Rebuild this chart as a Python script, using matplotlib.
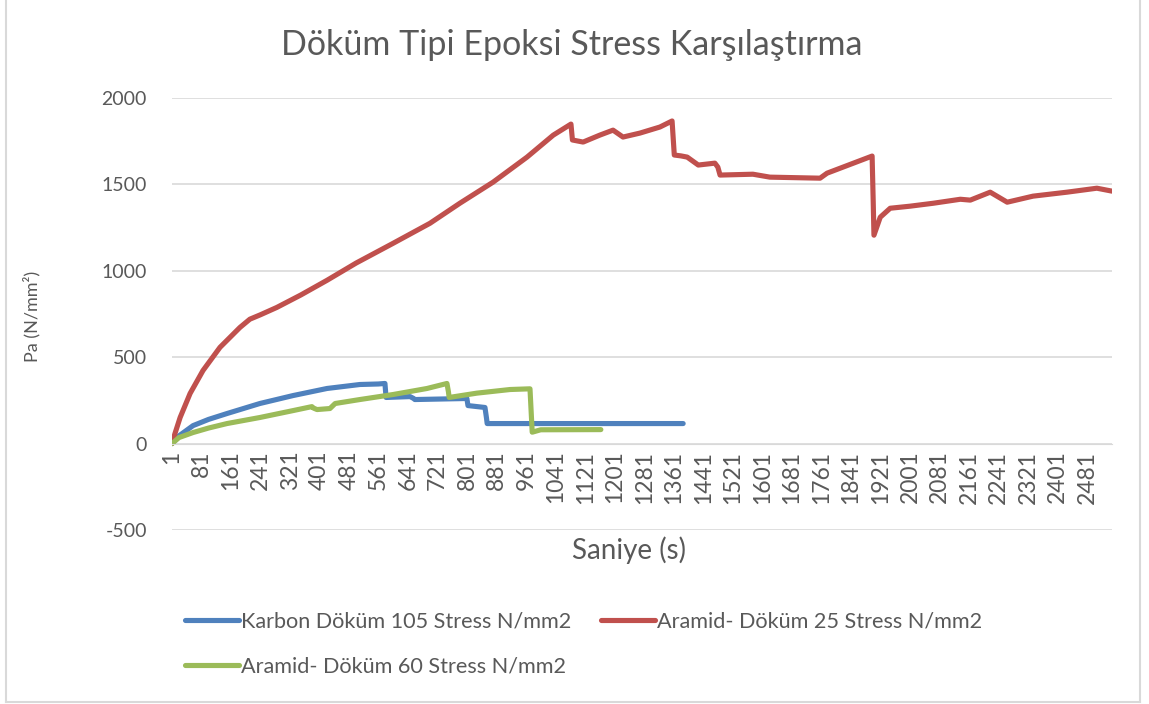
import matplotlib
matplotlib.use("Agg")
import matplotlib.pyplot as plt
from matplotlib.lines import Line2D

plt.rcParams['font.family'] = ['Lato', 'DejaVu Sans']
plt.rcParams['axes.unicode_minus'] = False

# sample index (seconds) and stress values per specimen
karbon105_t = [1, 20, 58, 100, 150, 239, 329, 421, 510, 560, 578, 581, 646, 655, 659,
               800, 803, 849, 853, 855, 1000, 1200, 1386]
karbon105_v = [0, 45, 104, 140, 174, 232, 278, 319, 342, 345, 348, 267, 272, 262, 255,
               261, 220, 209, 150, 116, 116, 116, 116]

aramid25_t = [1, 9, 23, 50, 85, 131, 185, 212, 240, 285, 350, 421, 500, 600, 700, 781,
              871, 963, 1034, 1082, 1086, 1115, 1160, 1196, 1223, 1269, 1323, 1356, 1362,
              1380, 1397, 1427, 1472, 1480, 1486, 1575, 1621, 1757, 1776, 1898, 1901,
              1903, 1920, 1947, 2001, 2064, 2137, 2164, 2218, 2264, 2334, 2426, 2507, 2548]
aramid25_v = [0, 58, 151, 290, 423, 557, 672, 720, 745, 788, 860, 945, 1045, 1159, 1275,
              1391, 1513, 1658, 1785, 1849, 1757, 1745, 1785, 1814, 1774, 1797, 1832, 1867,
              1670, 1665, 1658, 1612, 1623, 1600, 1554, 1559, 1542, 1536, 1565, 1664, 1400,
              1206, 1310, 1362, 1374, 1391, 1414, 1409, 1455, 1397, 1432, 1455, 1478, 1461]

aramid60_t = [1, 20, 58, 100, 150, 239, 329, 380, 385, 394, 429, 443, 510, 600, 692, 746,
              750, 752, 827, 917, 971, 975, 977, 1000, 1163]
aramid60_v = [0, 35, 64, 90, 116, 151, 191, 214, 205, 197, 203, 232, 255, 284, 319, 348,
              300, 267, 292, 313, 317, 150, 66, 80, 81]

xticks = list(range(1, 2482, 80))
yticks = [-500, 0, 500, 1000, 1500, 2000]

grey = '#595959'
W, H = 1149, 704
fig = plt.figure(figsize=(W / 100, H / 100), dpi=100)
ax = fig.add_axes([172 / W, 1 - 530 / H, (1112 - 172) / W, (530 - 98) / H])

# category axis crosses at zero
for s in ['top', 'right', 'left']:
    ax.spines[s].set_visible(False)
ax.spines['bottom'].set_position(('data', 0))
ax.spines['bottom'].set_color('#d9d9d9')

lw = 3.7
l1, = ax.plot(karbon105_t, karbon105_v, color='#4F81BD', lw=lw, solid_capstyle='round',
              label='Karbon Döküm 105 Stress N/mm2')
l2, = ax.plot(aramid25_t, aramid25_v, color='#C0504D', lw=lw, solid_capstyle='round',
              label='Aramid- Döküm 25 Stress N/mm2')
l3, = ax.plot(aramid60_t, aramid60_v, color='#9BBB59', lw=lw, solid_capstyle='round',
              label='Aramid- Döküm 60 Stress N/mm2')

ax.set_xlim(1, 2548)
ax.set_ylim(-500, 2000)
ax.set_yticks(yticks)
ax.set_xticks(xticks)
ax.set_xticklabels([str(t) for t in xticks])
ax.tick_params(axis='x', length=0, pad=5, labelsize=16.5, labelcolor=grey, labelrotation=90)
ax.tick_params(axis='y', length=0, pad=18, labelsize=14, labelcolor=grey)
ax.grid(axis='y', color='#d9d9d9', lw=1.2)
ax.set_axisbelow(True)

fig.text(572 / W, 1 - 45 / H, 'Döküm Tipi Epoksi Stress Karşılaştırma',
         ha='center', va='center', fontsize=24.5, color=grey)
fig.text(629 / W, 1 - 550 / H, 'Saniye (s)', ha='center', va='center',
         fontsize=20, color=grey)
fig.text(32 / W, 1 - 316 / H, 'Pa (N/mm²)', ha='center', va='center',
         rotation=90, fontsize=13, color=grey)

# legend fills column-wise, so order handles to get two per row
fig.legend([l1, l3, l2], [l1.get_label(), l3.get_label(), l2.get_label()],
           loc='upper left', bbox_to_anchor=(185 / W, 1 - 612 / H), ncol=2,
           frameon=False, fontsize=15.6, handlelength=2.5, handletextpad=0.1,
           columnspacing=1.35, labelspacing=1.15, labelcolor=grey,
           borderaxespad=0, borderpad=0)

# light frame around the chart area
for xs, ys in [([6, 6], [0, 702]), ([1140, 1140], [0, 702]), ([6, 1140], [702, 702])]:
    fig.add_artist(Line2D([x / W for x in xs], [1 - y / H for y in ys],
                          transform=fig.transFigure, color='#d9d9d9', lw=1.5))

fig.savefig('out.png', dpi=100)
